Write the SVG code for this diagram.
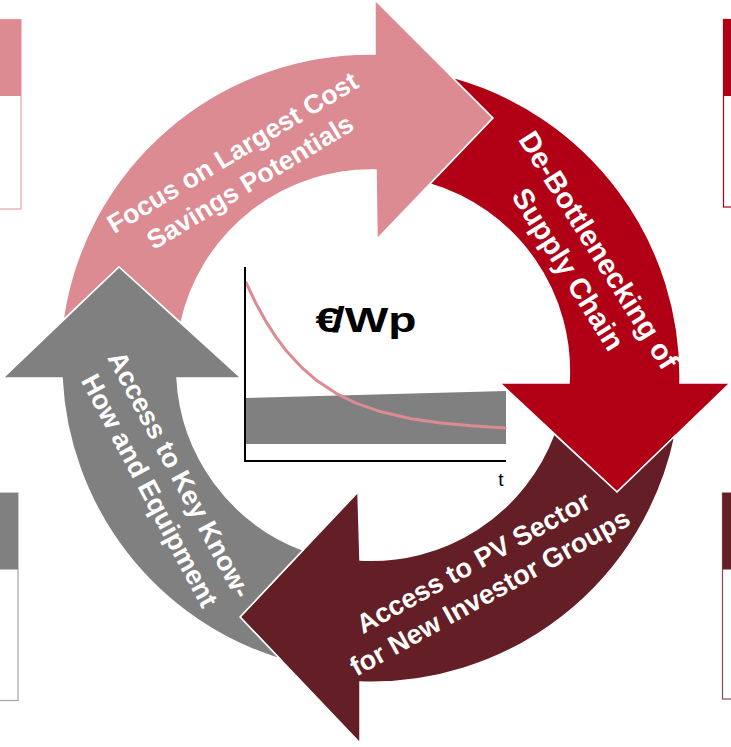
<svg xmlns="http://www.w3.org/2000/svg" width="731" height="747" viewBox="0 0 731 747">
  <style>
    .arrow { stroke: #ffffff; stroke-width: 1.5; stroke-linejoin: miter; }
    .pink { fill: #DB8B91; }
    .red { fill: #B10016; }
    .maroon { fill: #631F25; }
    .gray { fill: #808080; }
    .lbl { font-family: "Liberation Sans", Arial, sans-serif; font-weight: bold; font-size: 27px; fill: #ffffff; text-anchor: middle; }
    .panel { fill: #ffffff; stroke-width: 1.2; }
  </style>

  <!-- side panels, cut off at the page edges -->
  <g id="panel-top-left">
    <rect class="panel" x="-10" y="19.5" width="31" height="189.5" stroke="#E3A5AA"/>
    <rect x="-10" y="19.5" width="31" height="76.5" fill="#DB8B91"/>
  </g>
  <g id="panel-top-right">
    <rect class="panel" x="723.5" y="19.5" width="20" height="187.5" stroke="#B10016"/>
    <rect x="723.5" y="19.5" width="20" height="76.5" fill="#B10016"/>
  </g>
  <g id="panel-bottom-left">
    <rect class="panel" x="-10" y="493" width="28" height="207.5" stroke="#A6A6A6"/>
    <rect x="-10" y="493" width="28" height="76.5" fill="#808080"/>
  </g>
  <g id="panel-bottom-right">
    <rect class="panel" x="722.5" y="493" width="20" height="206" stroke="#8A4A50"/>
    <rect x="722.5" y="493" width="20" height="76.5" fill="#631F25"/>
  </g>

  <!-- four curved arrows forming the cycle; each tail is notched by the next head -->
  <g id="step-cost-focus">
    <path class="arrow pink" d="M 63,320 A 310 310 0 0 1 375,54 L 375,0 L 493,118 L 377,239 L 376,170 A 195 195 0 0 0 181,323 L 119,267 Z"/>
    <g transform="translate(246,175) rotate(-31)">
      <text class="lbl" style="font-size:26.5px"><tspan x="0" y="-17">Focus on Largest Cost</tspan><tspan x="0" y="17">Savings Potentials</tspan></text>
    </g>
  </g>

  <g id="step-supply-chain">
    <path class="arrow red" d="M 452,77 A 310 310 0 0 1 680,383 L 730,383 L 617,492 L 500,383 L 569,383 A 195 195 0 0 0 430,184 L 493,118 Z"/>
    <g transform="translate(575,265) rotate(58)">
      <text class="lbl" style="font-size:29px"><tspan x="0" y="-18">De-Bottlenecking of</tspan><tspan x="0" y="18">Supply Chain</tspan></text>
    </g>
  </g>

  <g id="step-investors">
    <path class="arrow maroon" d="M 675,436 A 310 310 0 0 1 360,682 L 360,743 L 240,617 L 358,492 L 360,560 A 195 195 0 0 0 554,434 L 617,492 Z"/>
    <g transform="translate(486,585.5) rotate(-29)">
      <text class="lbl"><tspan x="0" y="-17">Access to PV Sector</tspan><tspan x="0" y="17">for New Investor Groups</tspan></text>
    </g>
  </g>

  <g id="step-know-how">
    <path class="arrow gray" d="M 280,659 A 310 310 0 0 1 62,378 L 3,378 L 119,267 L 241,378 L 177,378 A 195 195 0 0 0 303,550 L 240,617 Z"/>
    <g transform="translate(156.5,487) rotate(62)">
      <text class="lbl"><tspan x="0" y="-17">Access to Key Know-</tspan><tspan x="0" y="17">How and Equipment</tspan></text>
    </g>
  </g>

  <!-- price-over-time chart in the middle -->
  <g id="chart">
    <polygon points="246,398 506,391 506,444 246,444" fill="#808080"/>
    <polyline fill="none" stroke="#DB8B91" stroke-width="3" stroke-linejoin="round" stroke-linecap="round"
      points="246,282.5 256,303.5 266,321.6 276,337.1 286,350.4 301,366.8 316,379.9 336,393.3 356,403.1 381,411.8 411,418.7 441,423.1 471,425.8 505,428"/>
    <path d="M 245,267 V 461 H 506" fill="none" stroke="#000000" stroke-width="2"/>
    <text x="501" y="486" font-family="Liberation Sans, Arial, sans-serif" font-size="19" text-anchor="middle" fill="#000000">t</text>
    <text transform="translate(366,332) scale(1.32,1)" x="0" y="0" dx="0 -7 0 0" font-family="Liberation Sans, Arial, sans-serif" font-weight="bold" font-size="35" text-anchor="middle" fill="#000000">€/Wp</text>
  </g>
</svg>
